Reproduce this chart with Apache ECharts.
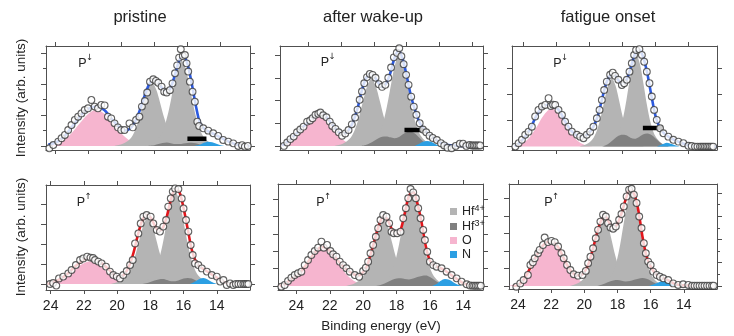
<!DOCTYPE html>
<html><head><meta charset="utf-8">
<script src="https://cdn.jsdelivr.net/npm/echarts@6/dist/echarts.min.js"></script>
<style>html,body{margin:0;padding:0;background:#fff}#c{width:734px;height:336px}</style>
</head><body><div id="c"></div>
<script>
// ---------- tick labels ----------
const xTicks = [24,22,20,18,16,14];
const xTicksB = [22,20,18,16,14,12];
const titles = ['pristine','after wake-up','fatigue onset'];
const legendNames = ['Hf4+','Hf3+','O','N'];

// ---------- panel A : pristine, P down ----------
const ptsA = [[24.34,-0.15],[24.1,0.06],[23.8,0.28],[23.6,0.5],[23.4,0.71],[23.2,1.03],[23.0,1.35],[22.8,1.68],[22.6,1.89],[22.4,2.1],[22.2,2.32],[22.0,2.43],[21.8,2.97],[21.6,2.54],[21.4,2.43],[21.2,2.65],[21.0,2.62],[20.8,1.89],[20.6,1.78],[20.4,1.46],[20.2,1.2],[20.0,1.03],[19.8,1.03],[19.5,1.46],[19.3,1.2],[19.1,1.68],[18.9,1.89],[18.75,2.54],[18.57,2.9],[18.43,3.45],[18.26,4.15],[18.06,4.3],[17.9,4.2],[17.76,4.08],[17.56,3.83],[17.4,3.5],[17.25,3.45],[17.06,3.6],[16.9,4.04],[16.75,4.69],[16.62,5.2],[16.5,5.7],[16.4,6.24],[16.28,5.8],[16.15,5.87],[16.05,5.33],[15.95,4.8],[15.85,4.15],[15.69,3.5],[15.55,2.86],[15.4,1.57],[15.29,1.29],[15.04,1.14],[14.74,0.99],[14.44,0.82],[14.14,0.65],[13.84,0.39],[13.53,0.28],[13.23,0.17],[12.93,0],[12.7,0.05],[12.53,-0.04],[12.35,0]];
const fitA = [[24.4,0.1],[24,0.2],[23.5,0.55],[23,1.2],[22.5,1.9],[22,2.4],[21.5,2.55],[21,2.3],[20.5,1.65],[20,1.1],[19.75,1.0],[19.5,1.1],[19.25,1.4],[19,1.95],[18.75,2.7],[18.5,3.5],[18.25,4.1],[18,4.25],[17.75,4.05],[17.5,3.7],[17.25,3.5],[17,3.8],[16.75,4.6],[16.5,5.5],[16.25,5.85],[16,5.3],[15.75,4.1],[15.5,2.65],[15.25,1.5],[15,1.12],[14.75,0.95],[14.5,0.82],[14,0.55],[13.5,0.28],[13,0.08],[12.5,0.01],[12.25,0]];
const OA = [[24.5,0],[24,0.1],[23.5,0.36],[23,0.82],[22.5,1.46],[22,2.07],[21.5,2.32],[21,2.07],[20.5,1.46],[20,0.82],[19.5,0.36],[19,0.13],[18.5,0.04],[18,0]];
const HaA = [[20.4,0],[20.15,0.06],[19.9,0.14],[19.65,0.29],[19.4,0.53],[19.15,1.03],[18.9,1.8],[18.65,2.79],[18.4,3.69],[18.15,4.1],[17.9,3.69],[17.65,2.79],[17.4,1.8],[17.15,1.03],[16.9,0.53],[16.65,0.29],[16.4,0.14],[16.15,0.06],[15.9,0]];
const HbA = [[18.6,0],[18.35,0.08],[18.1,0.19],[17.85,0.39],[17.6,0.72],[17.35,1.38],[17.1,2.42],[16.85,3.74],[16.6,4.95],[16.35,5.5],[16.1,4.95],[15.85,3.74],[15.6,2.42],[15.35,1.38],[15.1,0.72],[14.85,0.39],[14.6,0.19],[14.35,0.08],[14.1,0]];
const H3A = [[18.5,0],[18,0.05],[17.75,0.12],[17.5,0.19],[17.25,0.22],[17,0.18],[16.75,0.12],[16.5,0.12],[16.25,0.16],[16,0.19],[15.75,0.2],[15.5,0.17],[15.25,0.1],[15,0.04],[14.75,0]];
const NA = [[15.6,0],[15.25,0.08],[15,0.2],[14.75,0.28],[14.5,0.24],[14.25,0.14],[14,0.05],[13.75,0]];
const barA = [[16.0,0.47],[14.85,0.47]];

// ---------- panel B : after wake-up, P down ----------
const ptsB = [[23.5,0],[23.3,0.15],[23.1,0.3],[22.9,0.41],[22.7,0.6],[22.5,0.72],[22.3,0.85],[22.08,1.07],[21.9,1.12],[21.75,1.22],[21.57,1.37],[21.4,1.42],[21.27,1.47],[21.1,1.35],[20.9,1.26],[20.7,1.07],[20.55,0.88],[20.35,0.75],[20.15,0.6],[19.95,0.45],[19.75,0.55],[19.55,0.7],[19.35,0.95],[19.15,1.25],[19.0,1.6],[18.87,2.03],[18.73,2.4],[18.59,2.76],[18.42,3.03],[18.25,3.17],[18.08,3.13],[17.9,3.0],[17.7,2.72],[17.5,2.6],[17.3,2.69],[17.12,3.0],[16.95,3.45],[16.78,3.9],[16.6,4.1],[16.45,4.3],[16.32,3.95],[16.18,3.6],[16.03,3.13],[15.88,2.69],[15.72,2.17],[15.56,1.73],[15.4,1.37],[15.2,1.0],[15.0,0.72],[14.8,0.6],[14.6,0.45],[14.4,0.35],[14.15,0.26],[13.9,0.12],[13.7,0.02],[13.5,-0.08],[13.25,-0.1],[13.0,0],[12.75,0.1],[12.55,0.1],[12.35,0],[12.15,0.04],[12.0,0.02],[11.9,0.02],[11.8,0.02],[11.7,0.02],[11.6,0.02],[11.5,0.02]];
const fitB = [[23.6,0.02],[23.25,0.2],[23,0.35],[22.5,0.72],[22,1.05],[21.5,1.35],[21.25,1.42],[21,1.35],[20.5,0.9],[20,0.55],[19.75,0.55],[19.5,0.75],[19.25,1.1],[19,1.65],[18.75,2.4],[18.5,2.95],[18.25,3.15],[18,3.08],[17.75,2.8],[17.5,2.6],[17.25,2.75],[17,3.2],[16.75,3.85],[16.5,4.2],[16.25,3.85],[16,3.1],[15.75,2.25],[15.5,1.6],[15.25,1.1],[15,0.78],[14.75,0.58],[14.5,0.42],[14.25,0.3],[14,0.17],[13.5,0.04],[13,0.01],[12.5,0],[11.5,0]];
const OB = [[23.9,0],[23.4,0.08],[22.9,0.27],[22.4,0.65],[21.9,1.09],[21.4,1.3],[20.9,1.09],[20.4,0.65],[19.9,0.27],[19.4,0.08],[18.9,0]];
const HaB = [[20.4,0],[20.15,0.04],[19.9,0.1],[19.65,0.21],[19.4,0.38],[19.15,0.74],[18.9,1.3],[18.65,2.01],[18.4,2.66],[18.15,2.95],[17.9,2.66],[17.65,2.01],[17.4,1.3],[17.15,0.74],[16.9,0.38],[16.65,0.21],[16.4,0.1],[16.15,0.04],[15.9,0]];
const HbB = [[18.7,0],[18.45,0.06],[18.2,0.14],[17.95,0.28],[17.7,0.52],[17.45,1.0],[17.2,1.76],[16.95,2.72],[16.7,3.6],[16.45,4.0],[16.2,3.6],[15.95,2.72],[15.7,1.76],[15.45,1.0],[15.2,0.52],[14.95,0.28],[14.7,0.14],[14.45,0.06],[14.2,0]];
const H3B = [[18.75,0],[18.5,0.04],[18.25,0.12],[18,0.22],[17.75,0.33],[17.5,0.4],[17.25,0.42],[17,0.38],[16.75,0.34],[16.5,0.38],[16.25,0.5],[16,0.6],[15.75,0.62],[15.5,0.55],[15.25,0.38],[15,0.2],[14.75,0.08],[14.5,0]];
const NB = [[15.5,0],[15.25,0.08],[15,0.18],[14.75,0.22],[14.5,0.18],[14.25,0.08],[14,0]];
const barB = [[16.13,0.7],[14.97,0.7]];

// ---------- panel C : fatigue onset, P down ----------
const ptsC = [[24.46,0],[24.26,0.13],[24.06,0.26],[23.86,0.45],[23.66,0.57],[23.46,0.76],[23.26,1.15],[23.06,1.4],[22.85,1.53],[22.65,1.59],[22.45,1.85],[22.31,1.55],[22.18,1.6],[22.05,1.59],[21.85,1.4],[21.64,1.21],[21.45,0.95],[21.25,0.76],[21.04,0.57],[20.74,0.45],[20.54,0.38],[20.34,0.32],[20.14,0.45],[19.94,0.57],[19.74,0.76],[19.53,1.08],[19.37,1.4],[19.23,1.78],[19.09,2.16],[18.93,2.48],[18.73,2.74],[18.57,2.82],[18.43,2.7],[18.23,2.55],[18.02,2.35],[17.88,2.42],[17.72,2.55],[17.56,2.86],[17.42,3.18],[17.28,3.5],[17.16,3.69],[16.96,3.72],[16.81,3.5],[16.67,3.24],[16.51,2.86],[16.35,2.42],[16.21,1.91],[16.07,1.4],[15.91,1.02],[15.71,0.7],[15.51,0.51],[15.21,0.38],[14.91,0.26],[14.6,0.19],[14.3,0.13],[14.0,0.03],[13.8,0.02],[13.6,0],[13.45,0],[13.3,0],[13.2,0],[13.1,0],[13.0,0],[12.9,0],[12.8,0],[12.7,0],[12.6,0],[12.5,0]];
const fitC = [[24.5,0.02],[24.25,0.12],[24,0.28],[23.75,0.48],[23.5,0.75],[23.25,1.1],[23,1.38],[22.75,1.55],[22.5,1.6],[22.25,1.58],[22,1.5],[21.75,1.32],[21.5,1.02],[21.25,0.75],[21,0.55],[20.75,0.43],[20.5,0.38],[20.25,0.4],[20,0.52],[19.75,0.75],[19.5,1.12],[19.25,1.72],[19,2.35],[18.75,2.7],[18.5,2.75],[18.25,2.55],[18,2.38],[17.75,2.52],[17.5,2.98],[17.25,3.5],[17,3.7],[16.75,3.45],[16.5,2.85],[16.25,2.0],[16,1.2],[15.75,0.75],[15.5,0.52],[15.25,0.4],[15,0.3],[14.5,0.16],[14,0.05],[13.5,0.01],[12.3,0]];
const OC = [[24.75,0],[24.25,0.06],[23.75,0.25],[23.25,0.67],[22.75,1.19],[22.25,1.45],[21.75,1.19],[21.25,0.67],[20.75,0.25],[20.25,0.06],[19.75,0]];
const HaC = [[20.61,0],[20.39,0.04],[20.17,0.09],[19.95,0.18],[19.73,0.34],[19.51,0.65],[19.29,1.14],[19.07,1.77],[18.85,2.34],[18.63,2.6],[18.41,2.34],[18.19,1.77],[17.97,1.14],[17.75,0.65],[17.53,0.34],[17.31,0.18],[17.09,0.09],[16.87,0.04],[16.65,0]];
const HbC = [[19.13,0],[18.91,0.05],[18.69,0.12],[18.47,0.25],[18.25,0.46],[18.03,0.88],[17.81,1.54],[17.59,2.38],[17.37,3.15],[17.15,3.5],[16.93,3.15],[16.71,2.38],[16.49,1.54],[16.27,0.88],[16.05,0.46],[15.83,0.25],[15.61,0.12],[15.39,0.05],[15.17,0]];
const H3C = [[19.25,0],[19,0.05],[18.75,0.15],[18.5,0.28],[18.25,0.4],[18,0.45],[17.75,0.43],[17.5,0.34],[17.25,0.3],[17,0.36],[16.75,0.46],[16.5,0.5],[16.25,0.45],[16,0.32],[15.75,0.18],[15.5,0.08],[15.25,0.02],[15,0]];
const NC = [[15.9,0],[15.6,0.08],[15.3,0.15],[15.0,0.1],[14.7,0.03],[14.5,0]];
const barC = [[16.75,0.71],[15.54,0.71]];

// ---------- panel D : pristine, P up ----------
const ptsD = [[24.04,0],[23.85,0.05],[23.66,-0.08],[23.5,0.28],[23.24,0.37],[22.94,0.53],[22.74,0.7],[22.48,0.95],[22.23,1.2],[22.04,1.28],[21.8,1.37],[21.6,1.32],[21.45,1.3],[21.33,1.2],[21.13,1.12],[20.93,1.03],[20.67,0.87],[20.43,0.62],[20.23,0.45],[20.02,0.37],[19.83,0.28],[19.63,0.45],[19.42,0.65],[19.22,0.95],[19.06,1.2],[18.92,2.03],[18.72,2.53],[18.58,3.03],[18.42,3.37],[18.22,3.45],[17.98,3.37],[17.82,3.03],[17.61,2.7],[17.42,2.62],[17.22,2.87],[17.05,3.2],[16.92,3.87],[16.77,4.28],[16.65,4.62],[16.51,4.78],[16.31,4.75],[16.11,4.28],[16.0,3.78],[15.85,3.2],[15.71,2.62],[15.57,1.95],[15.45,1.45],[15.31,1.03],[15.11,0.95],[14.9,0.78],[14.6,0.62],[14.3,0.45],[14.0,0.37],[13.8,0.12],[13.6,0.2],[13.4,-0.05],[13.2,0.03],[13.0,-0.05],[12.85,0],[12.7,0],[12.55,0],[12.4,0],[12.3,0],[12.2,0],[12.1,0]];
const fitD = [[24.2,0],[24,0.05],[23.5,0.22],[23,0.5],[22.5,0.9],[22,1.22],[21.75,1.3],[21.5,1.28],[21,1.08],[20.5,0.72],[20.25,0.5],[20,0.38],[19.75,0.38],[19.5,0.55],[19.25,0.95],[19,1.6],[18.75,2.45],[18.5,3.15],[18.25,3.45],[18,3.35],[17.75,2.95],[17.5,2.65],[17.25,2.8],[17,3.4],[16.75,4.25],[16.5,4.75],[16.25,4.6],[16,3.8],[15.75,2.75],[15.5,1.7],[15.25,1.1],[15,0.85],[14.75,0.72],[14.5,0.58],[14.25,0.45],[14,0.32],[13.75,0.18],[13.5,0.08],[13,0.01],[12,0]];
const OD = [[24.15,0.03],[23.65,0.12],[23.15,0.32],[22.65,0.64],[22.15,0.97],[21.65,1.12],[21.15,0.97],[20.65,0.64],[20.15,0.32],[19.65,0.12],[19.15,0.03],[18.65,0]];
const HaD = [[20.4,0],[20.15,0.05],[19.9,0.12],[19.65,0.23],[19.4,0.43],[19.15,0.83],[18.9,1.45],[18.65,2.24],[18.4,2.97],[18.15,3.3],[17.9,2.97],[17.65,2.24],[17.4,1.45],[17.15,0.83],[16.9,0.43],[16.65,0.23],[16.4,0.12],[16.15,0.05],[15.9,0]];
const HbD = [[18.75,0],[18.5,0.07],[18.25,0.16],[18,0.32],[17.75,0.6],[17.5,1.15],[17.25,2.02],[17,3.13],[16.75,4.14],[16.5,4.6],[16.25,4.14],[16,3.13],[15.75,2.02],[15.5,1.15],[15.25,0.6],[15,0.32],[14.75,0.16],[14.5,0.07],[14.25,0]];
const H3D = [[18.5,0],[18.25,0.04],[18,0.1],[17.75,0.17],[17.5,0.23],[17.25,0.25],[17,0.2],[16.75,0.14],[16.5,0.14],[16.25,0.2],[16,0.27],[15.75,0.3],[15.5,0.27],[15.25,0.17],[15,0.07],[14.75,0]];
const ND = [[15.6,0],[15.3,0.12],[15.05,0.25],[14.8,0.3],[14.55,0.22],[14.3,0.1],[14,0]];

// ---------- panel E : after wake-up, P up ----------
const ptsE = [[24.9,-0.04],[24.7,0.06],[24.5,0.29],[24.3,0.48],[24.1,0.63],[23.9,0.73],[23.7,0.82],[23.5,1.2],[23.3,1.49],[23.1,1.78],[22.9,2.01],[22.7,2.2],[22.5,2.55],[22.36,2.2],[22.16,2.36],[21.96,2.01],[21.8,1.82],[21.6,1.69],[21.4,1.4],[21.2,1.2],[21.0,1.02],[20.8,0.82],[20.5,0.63],[20.24,0.53],[20.0,0.86],[19.84,1.05],[19.7,1.4],[19.56,1.88],[19.4,2.36],[19.24,2.83],[19.1,3.32],[18.96,3.79],[18.8,4.08],[18.6,3.98],[18.44,3.6],[18.3,3.12],[18.16,3.03],[17.96,3.03],[17.76,3.12],[17.6,3.89],[17.44,4.47],[17.3,5.04],[17.16,5.57],[17.0,5.38],[16.84,5.04],[16.7,4.47],[16.56,3.89],[16.4,3.22],[16.3,2.64],[16.16,1.97],[16.0,1.4],[15.8,1.2],[15.6,1.11],[15.3,1.02],[15.0,0.82],[14.7,0.63],[14.4,0.44],[14.1,0.25],[13.8,0.1],[13.6,0.03],[13.45,0.02],[13.35,0.02],[13.25,0.02],[13.15,0.02],[13.05,0.02],[12.95,0.02]];
const fitE = [[25.0,0],[24.75,0.08],[24.5,0.25],[24.25,0.45],[24,0.62],[23.75,0.82],[23.5,1.1],[23.25,1.45],[23,1.8],[22.75,2.08],[22.5,2.25],[22.25,2.22],[22,2.02],[21.75,1.75],[21.5,1.45],[21.25,1.18],[21,0.95],[20.75,0.78],[20.5,0.65],[20.25,0.62],[20,0.8],[19.75,1.2],[19.5,2.0],[19.25,2.85],[19,3.65],[18.75,4.0],[18.5,3.75],[18.25,3.2],[18,3.0],[17.75,3.25],[17.5,4.2],[17.25,5.2],[17,5.4],[16.75,4.75],[16.5,3.65],[16.25,2.3],[16,1.45],[15.75,1.18],[15.5,1.08],[15.25,0.98],[15,0.82],[14.75,0.65],[14.5,0.48],[14.25,0.32],[14,0.16],[13.75,0.07],[13.5,0.02],[12.9,0]];
const OE = [[25.0,0.05],[24.45,0.24],[23.95,0.62],[23.45,1.24],[22.95,1.87],[22.45,2.15],[21.95,1.87],[21.45,1.24],[20.95,0.62],[20.45,0.24],[19.95,0.07],[19.45,0]];
const HaE = [[21.05,0],[20.8,0.06],[20.55,0.13],[20.3,0.27],[20.05,0.5],[19.8,0.96],[19.55,1.69],[19.3,2.62],[19.05,3.47],[18.8,3.85],[18.55,3.47],[18.3,2.62],[18.05,1.69],[17.8,0.96],[17.55,0.5],[17.3,0.27],[17.05,0.13],[16.8,0.06],[16.55,0]];
const HbE = [[19.35,0],[19.1,0.08],[18.85,0.19],[18.6,0.38],[18.35,0.7],[18.1,1.35],[17.85,2.38],[17.6,3.67],[17.35,4.86],[17.1,5.4],[16.85,4.86],[16.6,3.67],[16.35,2.38],[16.1,1.35],[15.85,0.7],[15.6,0.38],[15.35,0.19],[15.1,0.08],[14.85,0]];
const H3E = [[19.25,0],[19,0.05],[18.75,0.13],[18.5,0.24],[18.25,0.36],[18,0.43],[17.75,0.44],[17.5,0.4],[17.25,0.38],[17,0.43],[16.75,0.52],[16.5,0.58],[16.25,0.6],[16,0.52],[15.75,0.36],[15.5,0.2],[15.25,0.08],[15,0.02],[14.75,0]];
const NE = [[15.9,0],[15.6,0.12],[15.35,0.3],[15.1,0.4],[14.85,0.36],[14.6,0.22],[14.35,0.08],[14.1,0]];

// ---------- panel F : fatigue onset, P up ----------
const ptsF = [[24.1,-0.04],[23.86,0.15],[23.66,0.34],[23.4,0.63],[23.25,1.2],[23.1,1.35],[22.99,1.58],[22.79,1.87],[22.69,2.06],[22.49,2.34],[22.39,2.76],[22.19,2.5],[21.98,2.57],[21.78,2.5],[21.58,2.25],[21.38,1.87],[21.24,1.58],[21.04,1.2],[20.84,0.91],[20.64,0.67],[20.38,0.59],[20.11,0.63],[19.91,0.86],[19.77,1.3],[19.63,1.67],[19.47,2.15],[19.31,2.72],[19.17,3.2],[19.03,3.67],[18.87,4.06],[18.7,3.96],[18.57,3.58],[18.42,3.33],[18.26,3.26],[18.1,3.39],[17.9,3.77],[17.76,4.1],[17.62,4.53],[17.45,5.1],[17.3,5.49],[17.15,5.54],[17.01,5.2],[16.85,4.73],[16.69,3.96],[16.55,3.3],[16.41,2.44],[16.29,1.87],[16.15,1.39],[16.0,1.2],[15.85,0.82],[15.64,0.63],[15.44,0.53],[15.24,0.44],[14.94,0.34],[14.64,0.15],[14.34,0.06],[14.04,0.1],[13.73,0.06],[13.5,0.02],[13.35,0.02],[13.2,0.02],[13.05,0.02],[12.9,0.02],[12.75,0.02],[12.6,0.02],[12.45,0.02],[12.3,0.02],[12.2,0.02]];
const fitF = [[24.3,0],[24,0.05],[23.75,0.25],[23.5,0.6],[23.25,1.05],[23,1.52],[22.75,1.95],[22.5,2.3],[22.25,2.5],[22,2.55],[21.75,2.42],[21.5,2.1],[21.25,1.6],[21,1.15],[20.75,0.8],[20.5,0.62],[20.25,0.6],[20,0.78],[19.75,1.25],[19.5,2.05],[19.25,2.95],[19,3.7],[18.75,3.98],[18.5,3.6],[18.25,3.28],[18,3.55],[17.75,4.15],[17.5,4.95],[17.25,5.5],[17,5.25],[16.75,4.35],[16.5,2.85],[16.25,1.7],[16,1.12],[15.75,0.75],[15.5,0.55],[15.25,0.45],[15,0.35],[14.75,0.22],[14.5,0.1],[14,0.04],[13.5,0.01],[12.2,0]];
const OF = [[24.5,0.03],[24,0.15],[23.5,0.51],[23,1.22],[22.5,2.06],[22,2.45],[21.5,2.06],[21,1.22],[20.5,0.51],[20,0.15],[19.5,0.03],[19,0]];
const HaF = [[20.89,0],[20.66,0.06],[20.43,0.14],[20.2,0.27],[19.97,0.51],[19.74,0.98],[19.51,1.72],[19.28,2.65],[19.05,3.51],[18.82,3.9],[18.59,3.51],[18.36,2.65],[18.13,1.72],[17.9,0.98],[17.67,0.51],[17.44,0.27],[17.21,0.14],[16.98,0.06],[16.75,0]];
const HbF = [[19.22,0],[18.99,0.08],[18.76,0.19],[18.53,0.37],[18.3,0.7],[18.07,1.34],[17.84,2.35],[17.61,3.64],[17.38,4.82],[17.15,5.35],[16.92,4.82],[16.69,3.64],[16.46,2.35],[16.23,1.34],[16.0,0.7],[15.77,0.37],[15.54,0.19],[15.31,0.08],[15.08,0]];
const H3F = [[19.25,0],[19,0.06],[18.75,0.15],[18.5,0.25],[18.25,0.32],[18,0.34],[17.75,0.3],[17.5,0.26],[17.25,0.28],[17,0.36],[16.75,0.42],[16.5,0.45],[16.25,0.41],[16,0.3],[15.75,0.17],[15.5,0.07],[15.25,0.02],[15,0]];
const NF = [[16.1,0],[15.8,0.1],[15.5,0.22],[15.25,0.28],[15,0.22],[14.7,0.1],[14.4,0]];

// ---------- layout / style (not data) ----------
const BLUE='#2c5ae0', RED='#e3161c';
const C_O='#f6b5cf', C_H4='#b4b4b4', C_H3='#808080', C_N='#2c9fe3', FRAME='#505050';
const panels = [
 {g:[46,46,204,104], x:[12.22,24.54], y:[-0.26,6.45], xt:xTicks, lab:false, fc:BLUE, yl:[0,2,4,6], ylm:[1,3,5], yr:[0,2,4,6], yrm:[1,3,5], pts:ptsA, fit:fitA, O:OA, Ha:HaA, Hb:HbA, H3:H3A, N:NA, bar:barA, P:[82.5,64], arrow:'↓'},
 {g:[280,46,203,104], x:[11.33,23.74], y:[-0.18,4.4], xt:xTicksB, lab:false, fc:BLUE, yl:[0,1,2,3,4], yr:[0,1.366,2.732,4.098], yrm:[0.683,2.049,3.415], pts:ptsB, fit:fitB, O:OB, Ha:HaB, Hb:HbB, H3:H3B, N:NB, bar:barB, P:[325,62.5], arrow:'↓'},
 {g:[512,46,205,104], x:[12.27,24.66], y:[-0.13,3.84], xt:xTicks, lab:false, fc:BLUE, yl:[0,1,2,3], yr:[0,1,2,3], pts:ptsC, fit:fitC, O:OC, Ha:HaC, Hb:HbC, H3:H3C, N:NC, bar:barC, P:[557.5,63.5], arrow:'↓'},
 {g:[46,185,204,105], x:[12.0,24.28], y:[-0.3,4.95], xt:xTicks, lab:true, fc:RED, yl:[0,1,2,3,4], yr:[0,1,2,3,4], pts:ptsD, fit:fitD, O:OD, Ha:HaD, Hb:HbD, H3:H3D, N:ND, P:[81,203], arrow:'↑'},
 {g:[278,184,205,106], x:[12.82,25.1], y:[-0.23,5.86], xt:xTicks, lab:true, fc:RED, yl:[0,1,2,3,4,5], yr:[0,1,2,3,4,5], pts:ptsE, fit:fitE, O:OE, Ha:HaE, Hb:HbE, H3:H3E, N:NE, P:[320.5,202.5], arrow:'↑'},
 {g:[509,184,208,105], x:[12.0,24.54], y:[-0.17,5.81], xt:xTicks, lab:true, fc:RED, yl:[0,1,2,3,4,5], yr:[0,1.326,2.652,3.978,5.304], yrm:[0.663,1.989,3.315,4.641], pts:ptsF, fit:fitF, O:OF, Ha:HaF, Hb:HbF, H3:H3F, N:NF, P:[548.5,202.5], arrow:'↑'}
];

const FONT='"Liberation Sans", Arial, sans-serif';
const grid=[], xAxis=[], yAxis=[], series=[], graphic=[];
panels.forEach((p,i)=>{
  grid.push({left:p.g[0], top:p.g[1], width:p.g[2], height:p.g[3]});
  const xb = {gridIndex:i, type:'value', min:p.x[0], max:p.x[1], inverse:true, splitLine:{show:false},
    axisLine:{show:true,onZero:false,lineStyle:{color:FRAME,width:1}},
    axisTick:{show:true,customValues:p.xt,length:4,lineStyle:{color:FRAME}}};
  const xi = xAxis.length;
  xAxis.push(Object.assign({}, xb, {position:'bottom', axisLabel:{show:p.lab, customValues:p.xt, fontSize:14, color:'#222', margin:9, fontFamily:FONT}}));
  xAxis.push(Object.assign({}, xb, {position:'top', axisLabel:{show:false}}));
  const yb = {gridIndex:i, type:'value', min:p.y[0], max:p.y[1], splitLine:{show:false}, axisLabel:{show:false}};
  const yi = yAxis.length;
  const mk = (pos, vals, len, line) => Object.assign({}, yb, {position:pos,
     axisLine:{show:line,onZero:false,lineStyle:{color:FRAME,width:1}},
     axisTick:{show:true,customValues:vals,length:len,lineStyle:{color:FRAME}}});
  yAxis.push(mk('left', p.yl, 5, true));
  yAxis.push(mk('right', p.yr, 5, true));
  if (p.ylm) yAxis.push(mk('left', p.ylm, 3, false));
  if (p.yrm) yAxis.push(mk('right', p.yrm, 3, false));
  const ax = {xAxisIndex:xi, yAxisIndex:yi};
  const area = (name, data, color, z) => Object.assign({name, type:'line', data, smooth:0.35, symbol:'none', color,
      itemStyle:{color}, lineStyle:{width:0}, areaStyle:{color, opacity:1}, z, silent:true}, ax);
  series.push(area('O', p.O, C_O, 2));
  series.push(area('Hf4+', p.Ha, C_H4, 3));
  series.push(area('Hf4+', p.Hb, C_H4, 3));
  series.push(area('Hf3+', p.H3, C_H3, 4));
  series.push(area('N', p.N, C_N, 5));
  series.push(Object.assign({name:'fit'+i, type:'line', data:p.fit, smooth:0.3, symbol:'none', lineStyle:{width:2.6,color:p.fc}, z:6, silent:true}, ax));
  if (p.bar) series.push(Object.assign({name:'bar'+i, type:'line', data:p.bar, symbol:'none', lineStyle:{width:4.5,color:'#000',cap:'butt'}, z:7, silent:true}, ax));
  series.push(Object.assign({name:'data'+i, type:'scatter', data:p.pts, symbol:'circle', symbolSize:6.8,
      itemStyle:{color:'#fff', borderColor:'#3a3a3a', borderWidth:1.1}, z:8, silent:true}, ax));
  graphic.push({type:'text', x:p.P[0], y:p.P[1], style:{text:'P', fontSize:12.5, fontFamily:FONT, fill:'#222', textAlign:'center', verticalAlign:'middle'}});
  graphic.push({type:'text', x:p.P[0]+7, y:p.P[1]-6, style:{text:p.arrow, fontSize:8.5, fontFamily:'"DejaVu Sans", sans-serif', fill:'#222', textAlign:'center', verticalAlign:'middle'}});
});

const titleX = [140, 373, 608];
titles.forEach((t,i)=>graphic.push({type:'text', x:titleX[i], y:17, style:{text:t, fontSize:16.5, fontFamily:FONT, fill:'#222', textAlign:'center', verticalAlign:'middle'}}));
[98, 237].forEach(y=>graphic.push({type:'text', x:21, y, rotation:Math.PI/2, style:{text:'Intensity (arb. units)', fontSize:13.5, fontFamily:FONT, fill:'#222', textAlign:'center', verticalAlign:'middle'}}));
graphic.push({type:'text', x:381, y:326.5, style:{text:'Binding energy (eV)', fontSize:13.5, fontFamily:FONT, fill:'#222', textAlign:'center', verticalAlign:'middle'}});

const chart = echarts.init(document.getElementById('c'), null, {renderer:'canvas'});
chart.setOption({
  animation:false,
  backgroundColor:'#fff',
  grid, xAxis, yAxis, series, graphic,
  legend:{left:445, top:199, orient:'vertical', itemWidth:7, itemHeight:7, itemGap:1, selectedMode:false,
    data: legendNames.map(n=>({name:n, icon:'rect'})),
    formatter: n => n==='Hf4+' ? '{m|Hf}{s|4+}' : n==='Hf3+' ? '{m|Hf}{s|3+}' : '{m|'+n+'}',
    textStyle:{color:'#222', fontFamily:FONT, fontSize:12.5,
      rich:{m:{fontSize:12.5, fontFamily:FONT, color:'#222', lineHeight:15}, s:{fontSize:9, fontFamily:FONT, color:'#222', verticalAlign:'top', lineHeight:15}}}}
});
</script></body></html>
